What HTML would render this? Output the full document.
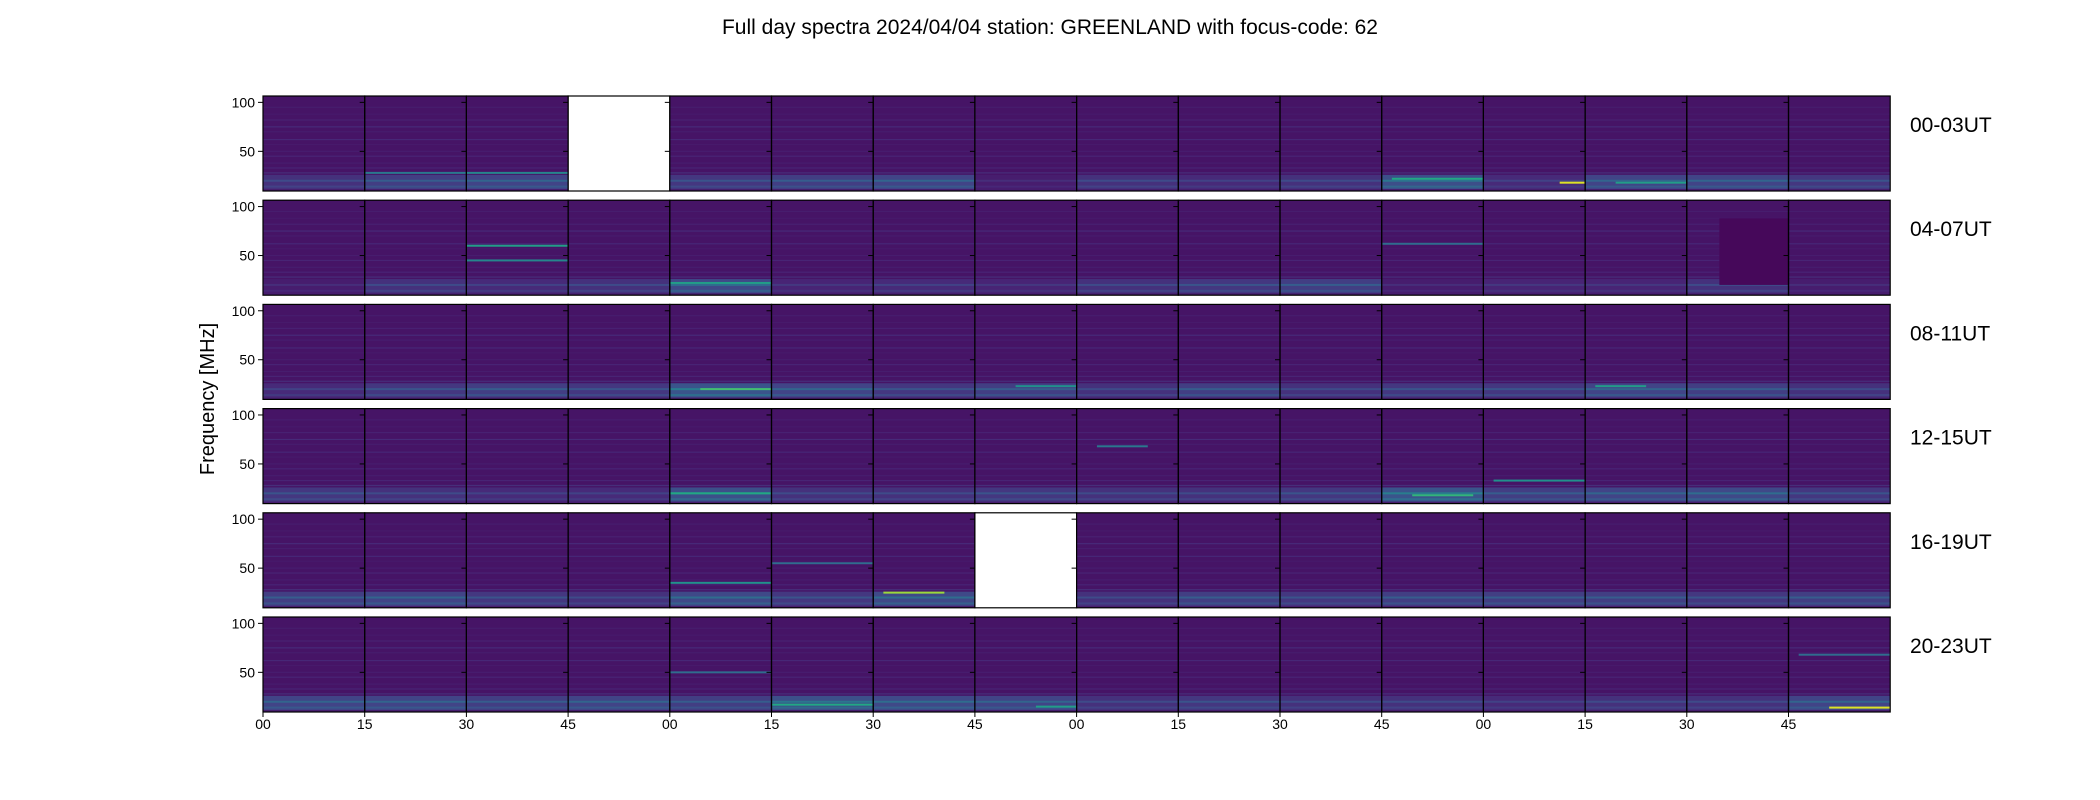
<!DOCTYPE html>
<html><head><meta charset="utf-8"><style>
html,body{margin:0;padding:0;background:#fff;}
svg{display:block;font-family:"Liberation Sans","DejaVu Sans",sans-serif;}
</style></head><body>
<svg id="fig" width="2100" height="800" viewBox="0 0 2100 800">
<text x="1050" y="34" text-anchor="middle" font-size="21">Full day spectra 2024/04/04 station: GREENLAND with focus-code: 62</text>
<text transform="translate(214,399) rotate(-90)" text-anchor="middle" font-size="20">Frequency [MHz]</text>
<g id="panels"></g>
</svg>
<script>
const rowLabels = ["00-03UT","04-07UT","08-11UT","12-15UT","16-19UT","20-23UT"];
const xTickLabels = ["00","15","30","45","00","15","30","45","00","15","30","45","00","15","30","45"];
const yTicks = [100, 50];
// low-frequency band brightness per panel (null = missing data)
const band0 = [.35,.45,.5,null,.4,.45,.5,.2,.35,.3,.35,.6,.3,.5,.5,.4];
const band1 = [.2,.35,.3,.35,.55,.25,.3,.25,.35,.4,.45,.2,.25,.25,.35,.2];
const band2 = [.3,.4,.45,.4,.65,.5,.4,.45,.35,.45,.35,.4,.4,.5,.45,.35];
const band3 = [.4,.35,.3,.3,.6,.35,.35,.4,.35,.35,.4,.65,.45,.5,.55,.4];
const band4 = [.45,.5,.4,.35,.55,.4,.55,null,.35,.45,.4,.45,.45,.45,.4,.45];
const band5 = [.5,.5,.45,.5,.45,.6,.55,.5,.35,.4,.35,.35,.3,.35,.35,.5];
const bands = [band0,band1,band2,band3,band4,band5];
// common RFI stripes (MHz) and their levels
const stripeFreqs = [95,88,82,75,70,62,57,50,45,38,33,28];
const stripeLevels = [.08,.07,.09,.12,.08,.11,.07,.08,.1,.08,.1,.13];
// notable bright lines: [row, panel, freq, level, startFrac, endFrac]
const brightLines = [
 [0,12,18,.95,.75,1],[0,11,22,.6,.1,1],[0,13,18,.55,.3,1],[0,2,28,.45,0,1],[0,1,28,.4,0,1],
 [1,2,60,.55,0,1],[1,2,45,.45,0,1],[1,4,22,.55,0,1],[1,11,62,.35,0,1],
 [2,4,20,.7,.3,1],[2,13,23,.55,.1,.6],[2,7,23,.5,.4,1],
 [3,4,20,.6,0,1],[3,11,18,.65,.3,.9],[3,12,33,.5,.1,1],[3,8,68,.4,.2,.7],
 [4,6,25,.85,.1,.7],[4,4,35,.5,0,1],[4,5,55,.35,0,1],
 [5,15,14,.95,.4,1],[5,5,17,.6,0,1],[5,7,15,.55,.6,1],[5,4,50,.35,0,1],[5,15,68,.35,.1,1]
];
// dark rectangle: [row,panel,fLow,fHigh,start,end]
const darkBoxes = [[1,14,20,88,.32,1]];

const X0=263, PW=101.7, Y0=96, RP=104.2, PH=95, FMIN=9.5, FMAX=106.5;
const px = (r,i,frac)=> X0 + (i+frac)*PW;
const py = (r,f)=> Y0 + r*RP + (FMAX-f)/(FMAX-FMIN)*PH;
const vir = [[68,1,84],[72,36,117],[65,68,135],[53,95,141],[42,120,142],[33,145,140],[34,168,132],[68,191,112],[122,209,81],[189,223,38],[253,231,37]];
function col(v){v=Math.max(0,Math.min(1,v));const t=v*10,k=Math.min(9,Math.floor(t)),f=t-k;const a=vir[k],b=vir[k+1];
 return `rgb(${Math.round(a[0]+(b[0]-a[0])*f)},${Math.round(a[1]+(b[1]-a[1])*f)},${Math.round(a[2]+(b[2]-a[2])*f)})`;}
const NS="http://www.w3.org/2000/svg";
const G=document.getElementById('panels');
function mk(tag,attrs,parent){const e=document.createElementNS(NS,tag);for(const k in attrs)e.setAttribute(k,attrs[k]);(parent||G).appendChild(e);return e;}

for(let r=0;r<6;r++){
 for(let i=0;i<16;i++){
  const g=mk('g',{});
  
  
  const x=px(r,i,0), y=Y0+r*RP, lvl=bands[r][i];
  if(lvl===null){
   const rc=mk('rect',{x:x,y:y,width:PW,height:PH,fill:'#fff',stroke:'#000','stroke-width':1.2},g);
   
   
   continue;
  }
  mk('rect',{x:x,y:y,width:PW,height:PH,fill:col(.055)},g);
  for(let s=0;s<stripeFreqs.length;s++){
   const l=mk('rect',{x:x,y:py(r,stripeFreqs[s])-0.6,width:PW,height:1.2,fill:col(stripeLevels[s])},g);
   
   
  }
  const b=mk('rect',{x:x,y:py(r,26),width:PW,height:py(r,FMIN)-py(r,26),fill:col(lvl*0.4)},g);
  
  
  const b2=mk('rect',{x:x,y:py(r,21),width:PW,height:2,fill:col(lvl*0.65)},g);
  
  
  const b3=mk('rect',{x:x,y:py(r,15),width:PW,height:2,fill:col(lvl*0.55)},g);
  
  
  const b4=mk('rect',{x:x,y:py(r,11.5),width:PW,height:py(r,FMIN)-py(r,11.5),fill:col(.08)},g);
  
  
 }
}
for(const d of darkBoxes){
 const e=mk('rect',{x:px(d[0],d[1],d[4]),y:py(d[0],d[3]),width:(d[5]-d[4])*PW,height:py(d[0],d[2])-py(d[0],d[3]),fill:'rgb(70,8,90)'});
 
 
}
for(const L of brightLines){
 const e=mk('rect',{x:px(L[0],L[1],L[4]),y:py(L[0],L[2])-1,width:(L[5]-L[4])*PW,height:2,fill:col(L[3])});
 
 
}
for(let r=0;r<6;r++){
 const y=Y0+r*RP;
 for(let i=0;i<16;i++){
  if(bands[r][i]===null)continue;
  mk('rect',{x:px(r,i,0),y:y,width:PW,height:PH,fill:'none',stroke:'#000','stroke-width':1.2});
 }
 for(const t of yTicks){
  mk('line',{x1:X0-5,x2:X0,y1:py(r,t),y2:py(r,t),stroke:'#000','stroke-width':1});
  const tl=mk('text',{x:X0-8,y:py(r,t)+5,'text-anchor':'end','font-size':14});
  tl.textContent=t;
  
  
  for(let i=1;i<16;i++) mk('line',{x1:px(r,i,0)-5,x2:px(r,i,0),y1:py(r,t),y2:py(r,t),stroke:'#000','stroke-width':1});
 }
 const lab=mk('text',{x:1910,y:y+36,'font-size':21});
 lab.textContent=rowLabels[r];
 
 
}
for(let i=0;i<16;i++){
 const x=px(5,i,0);
 mk('line',{x1:x,x2:x,y1:Y0+5*RP+PH,y2:Y0+5*RP+PH+5,stroke:'#000','stroke-width':1});
 const t=mk('text',{x:x,y:729,'text-anchor':'middle','font-size':14});
 t.textContent=xTickLabels[i];
 
 
}
</script>
</body></html>
